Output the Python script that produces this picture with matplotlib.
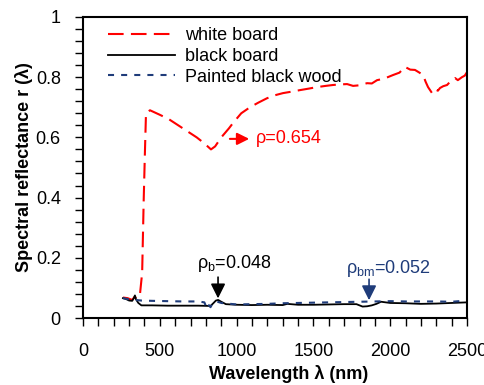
import matplotlib
matplotlib.use("Agg")
import matplotlib.pyplot as plt
from matplotlib.ticker import MultipleLocator

plt.rcParams['font.family'] = ['Liberation Sans', 'DejaVu Sans']
plt.rcParams['mathtext.fontset'] = 'custom'
plt.rcParams['mathtext.rm'] = 'Liberation Sans'
plt.rcParams['mathtext.it'] = 'Liberation Sans:italic'

# white board spectrum
wl_white = [260, 290, 320, 335, 350, 370, 385, 395, 403, 410, 436, 500, 560, 620,
            680, 740, 790, 833, 860, 900, 950, 977, 1030, 1087, 1140, 1198, 1250,
            1302, 1360, 1413, 1470, 1523, 1580, 1628, 1680, 1719, 1758, 1800, 1849,
            1880, 1914, 1960, 2018, 2060, 2096, 2130, 2161, 2190, 2214, 2230, 2246,
            2272, 2290, 2310, 2324, 2345, 2370, 2390, 2422, 2440, 2467, 2485, 2500]
r_white = [0.068, 0.066, 0.060, 0.070, 0.065, 0.075, 0.150, 0.390, 0.550, 0.680,
           0.690, 0.675, 0.660, 0.640, 0.620, 0.600, 0.580, 0.560, 0.570, 0.600,
           0.630, 0.648, 0.680, 0.700, 0.715, 0.730, 0.740, 0.747, 0.752, 0.757,
           0.762, 0.767, 0.771, 0.774, 0.776, 0.777, 0.771, 0.773, 0.780, 0.779,
           0.790, 0.795, 0.807, 0.815, 0.834, 0.825, 0.824, 0.815, 0.807, 0.785,
           0.767, 0.747, 0.760, 0.755, 0.764, 0.770, 0.774, 0.785, 0.797, 0.790,
           0.800, 0.805, 0.817]

# black board spectrum
wl_black = [260, 280, 300, 320, 330, 338, 345, 360, 380, 450, 550, 650, 750, 830,
            850, 865, 880, 900, 930, 1000, 1100, 1200, 1300, 1330, 1400, 1500, 1600,
            1700, 1780, 1800, 1820, 1850, 1880, 1910, 1940, 1970, 2000, 2100, 2200,
            2300, 2400, 2500]
r_black = [0.066, 0.063, 0.058, 0.057, 0.065, 0.075, 0.062, 0.050, 0.042, 0.042,
           0.041, 0.041, 0.041, 0.040, 0.050, 0.058, 0.060, 0.054, 0.046, 0.044,
           0.043, 0.044, 0.043, 0.047, 0.044, 0.044, 0.045, 0.046, 0.046, 0.042,
           0.038, 0.039, 0.042, 0.047, 0.054, 0.052, 0.050, 0.049, 0.047, 0.048,
           0.050, 0.052]

# painted black wood spectrum
wl_wood = [260, 300, 340, 380, 450, 550, 650, 750, 790, 805, 815, 830, 845, 870,
           900, 1000, 1100, 1200, 1300, 1400, 1500, 1600, 1700, 1800, 1900, 2000,
           2100, 2200, 2300, 2400, 2450, 2500]
r_wood = [0.066, 0.062, 0.060, 0.058, 0.057, 0.056, 0.055, 0.055, 0.052, 0.033,
          0.045, 0.036, 0.050, 0.055, 0.050, 0.045, 0.046, 0.047, 0.049, 0.050,
          0.051, 0.052, 0.053, 0.054, 0.055, 0.056, 0.055, 0.055, 0.055, 0.054,
          0.056, 0.058]

navy = '#1F3C7A'

fig = plt.figure(figsize=(4.84, 3.85), dpi=100)
ax = fig.add_axes([0.1715, 0.174, 0.7935, 0.782])

ax.plot(wl_white, r_white, color='red', lw=1.5, ls=(0, (7.5, 3.5)), label='white board')
ax.plot(wl_black, r_black, color='black', lw=1.3, label='black board')
ax.plot(wl_wood, r_wood, color=navy, lw=1.5, ls=(0, (2.9, 3.4)), label='Painted black wood')

ax.set_xlim(0, 2500)
ax.set_ylim(0, 1)
ax.xaxis.set_major_locator(MultipleLocator(500))
ax.xaxis.set_minor_locator(MultipleLocator(100))
ax.yaxis.set_minor_locator(MultipleLocator(0.04))
ax.set_yticks([0, 0.2, 0.4, 0.6, 0.8, 1.0])
ax.set_yticklabels(['0', '0.2', '0.4', '0.6', '0.8', '1'])
ax.tick_params(which='both', direction='out', length=6, width=1, labelsize=13)
ax.tick_params(axis='x', which='both', pad=12)
ax.tick_params(axis='y', which='both', pad=10)
for s in ax.spines.values():
    s.set_linewidth(1.5)

ax.set_xlabel('Wavelength λ (nm)', fontsize=13, fontweight='bold', labelpad=2)
ax.xaxis.set_label_coords(0.535, -0.155)
ax.set_ylabel('Spectral reflectance r (λ)', fontsize=13, fontweight='bold', labelpad=2)

ax.legend(loc='upper left', frameon=False, fontsize=13, handlelength=3.7,
          handletextpad=0.55, labelspacing=0.22, bbox_to_anchor=(0.04, 1.0),
          borderaxespad=0.15)

# red arrow pointing to the label
ax.annotate('', xy=(1100, 0.595), xytext=(938, 0.595),
            arrowprops=dict(arrowstyle='-|>', color='red', lw=1.5, mutation_scale=18))
ax.text(1126, 0.595, 'ρ=0.654', color='red', fontsize=13, va='center', ha='left')

ax.annotate('', xy=(879, 0.056), xytext=(879, 0.145),
            arrowprops=dict(arrowstyle='-|>', color='black', lw=1.2, mutation_scale=22))
ax.text(740, 0.18, r'ρ$_\mathrm{b}$=0.048', fontsize=13, va='center', ha='left')

ax.annotate('', xy=(1862, 0.05), xytext=(1862, 0.138),
            arrowprops=dict(arrowstyle='-|>', color=navy, lw=1.2, mutation_scale=22))
ax.text(1710, 0.165, r'ρ$_\mathrm{bm}$=0.052', fontsize=13, va='center', ha='left', color=navy)

fig.savefig('out.png', dpi=100)
